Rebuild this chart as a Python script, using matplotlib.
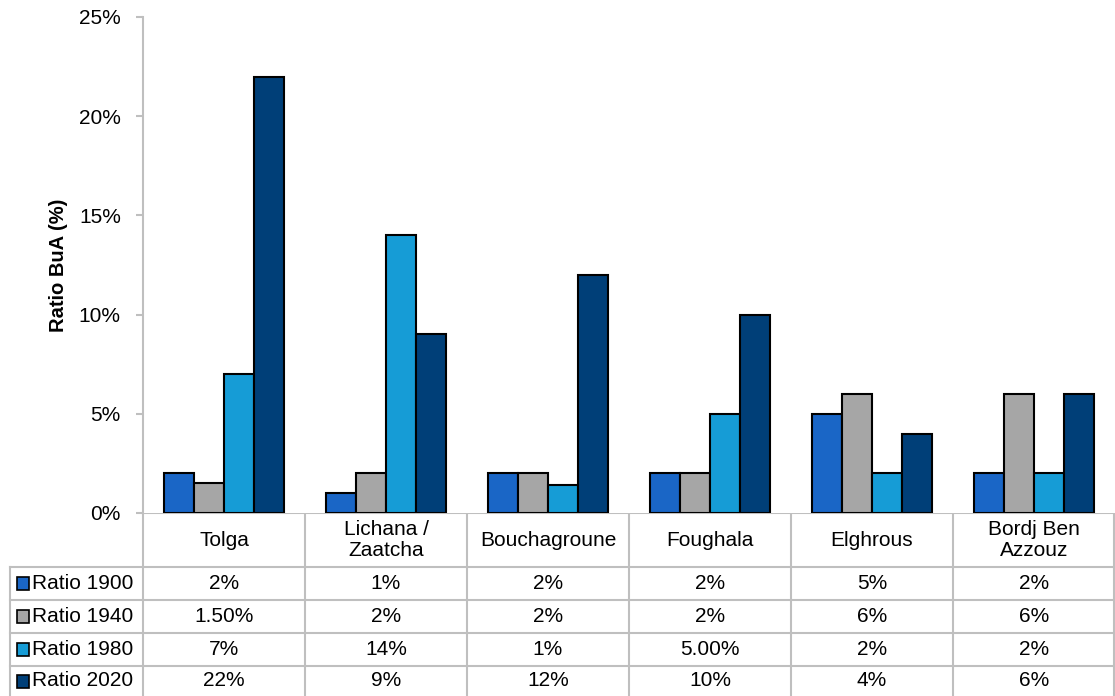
import numpy as np
import matplotlib
matplotlib.use("Agg")
import matplotlib.pyplot as plt
from matplotlib.patches import Rectangle

plt.rcParams['font.family'] = ['Liberation Sans', 'DejaVu Sans']

categories = ["Tolga", "Lichana /\nZaatcha", "Bouchagroune", "Foughala", "Elghrous", "Bordj Ben\nAzzouz"]
series_names = ["Ratio 1900", "Ratio 1940", "Ratio 1980", "Ratio 2020"]
ratio_1900 = [2, 1, 2, 2, 5, 2]
ratio_1940 = [1.5, 2, 2, 2, 6, 6]
ratio_1980 = [7, 14, 1.4, 5, 2, 2]
ratio_2020 = [22, 9, 12, 10, 4, 6]
labels_1900 = ["2%", "1%", "2%", "2%", "5%", "2%"]
labels_1940 = ["1.50%", "2%", "2%", "2%", "6%", "6%"]
labels_1980 = ["7%", "14%", "1%", "5.00%", "2%", "2%"]
labels_2020 = ["22%", "9%", "12%", "10%", "4%", "6%"]
yticks = [0, 5, 10, 15, 20, 25]
ytick_labels = ["0%", "5%", "10%", "15%", "20%", "25%"]
colors = ["#1A66C6", "#A6A6A6", "#169CD6", "#003F78"]

series = [ratio_1900, ratio_1940, ratio_1980, ratio_2020]
table_labels = [labels_1900, labels_1940, labels_1980, labels_2020]

FS = 15
W, H = 1115, 696
fig = plt.figure(figsize=(W / 100, H / 100), dpi=100)

ax_left, ax_right, ax_top, ax_bot = 143, 1115, 17, 513
ax = fig.add_axes([ax_left / W, 1 - ax_bot / H, (ax_right - ax_left) / W, (ax_bot - ax_top) / H])

x = np.arange(len(categories))
bw = 0.185
for i, (vals, col) in enumerate(zip(series, colors)):
    ax.bar(x + (i - 1.5) * bw, vals, width=bw, color=col, edgecolor="black", linewidth=1.5, zorder=3)

ax.set_xlim(-0.5, len(categories) - 0.5)
ax.set_ylim(0, 25)
ax.set_yticks(yticks)
ax.set_yticklabels(ytick_labels, fontsize=FS)
ax.set_xticks([])
for s in ["top", "right", "bottom"]:
    ax.spines[s].set_visible(False)
ax.spines["left"].set_color("#BFBFBF")
ax.spines["left"].set_linewidth(1.5)
ax.tick_params(axis="y", length=5, width=1.5, color="#BFBFBF", pad=11)
ax.set_ylabel("Ratio BuA (%)", fontsize=14.5, fontweight="bold", labelpad=8)

# Data table
tax = fig.add_axes([0, 0, 1, 1], zorder=-1)
tax.set_xlim(0, W)
tax.set_ylim(H, 0)
tax.axis("off")
grid = "#BFBFBF"
lw = 1.5
col_w = (ax_right - ax_left) / len(categories)
leg_left = 10
row_edges = [ax_bot, 567, 600, 633, 666, 699]

tax.plot([ax_left, ax_right], [ax_bot, ax_bot], color=grid, lw=lw)
for ye in row_edges[1:-1]:
    tax.plot([leg_left, ax_right], [ye, ye], color=grid, lw=lw)
tax.plot([leg_left, leg_left], [row_edges[1], H], color=grid, lw=lw)
for j in range(len(categories) + 1):
    xv = ax_left + j * col_w
    if j == len(categories):
        xv -= 1
    tax.plot([xv, xv], [ax_bot, H], color=grid, lw=lw)

for j, c in enumerate(categories):
    tax.text(ax_left + (j + 0.5) * col_w, (row_edges[0] + row_edges[1]) / 2, c,
             ha="center", va="center", fontsize=FS, linespacing=1.15)

for r, (name, labs, col) in enumerate(zip(series_names, table_labels, colors)):
    yc = (row_edges[r + 1] + row_edges[r + 2]) / 2
    if r == 3:
        yc = 681
    tax.add_patch(Rectangle((17, yc - 6.5), 12, 13, facecolor=col, edgecolor="black", lw=1.2))
    tax.text(32, yc, name, ha="left", va="center", fontsize=FS)
    for j, lab in enumerate(labs):
        tax.text(ax_left + (j + 0.5) * col_w, yc, lab, ha="center", va="center", fontsize=FS)

fig.savefig("out.png", dpi=100)
